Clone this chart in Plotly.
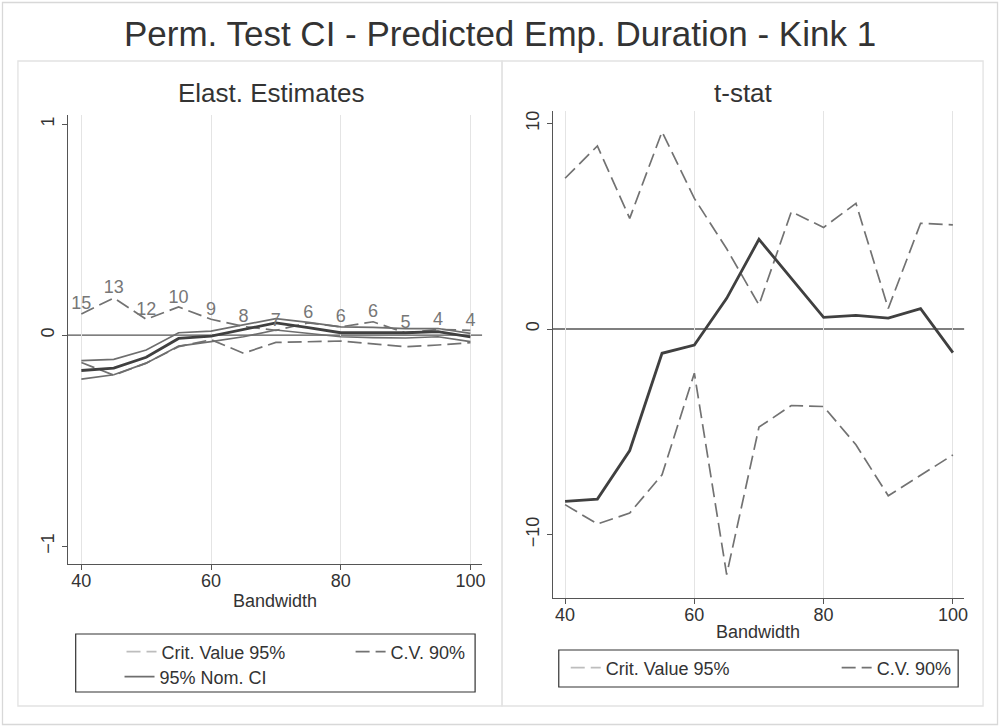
import plotly.graph_objects as go

# ---------------- data ----------------
bandwidth = [40, 45, 50, 55, 60, 65, 70, 75, 80, 85, 90, 95, 100]

elast_est = [-0.168, -0.157, -0.105, -0.016, -0.005, 0.027, 0.058, 0.035, 0.011, 0.011, 0.011, 0.016, -0.008]
elast_ci_hi = [-0.121, -0.115, -0.071, 0.011, 0.019, 0.050, 0.078, 0.060, 0.039, 0.036, 0.031, 0.031, 0.008]
elast_ci_lo = [-0.209, -0.188, -0.133, -0.052, -0.031, -0.008, 0.024, 0.008, -0.008, -0.012, -0.014, -0.008, -0.031]
elast_cv90_hi = [0.100, 0.176, 0.075, 0.133, 0.075, 0.041, 0.022, 0.058, 0.039, 0.063, 0.010, 0.027, 0.022]
elast_cv90_lo = [-0.130, -0.190, -0.133, -0.055, -0.022, -0.086, -0.035, -0.031, -0.028, -0.042, -0.055, -0.047, -0.036]
elast_labels = ["15", "13", "12", "10", "9", "8", "7", "6", "6", "6", "5", "4", "4"]

tstat = [-8.38, -8.27, -5.91, -1.18, -0.78, 1.49, 4.36, 2.46, 0.57, 0.66, 0.53, 0.99, -1.15]
tstat_cv90_hi = [7.33, 8.90, 5.38, 9.59, 6.35, 3.90, 1.17, 5.70, 4.94, 6.11, 1.00, 5.14, 5.06]
tstat_cv90_lo = [-8.54, -9.48, -8.95, -7.09, -2.15, -11.94, -4.77, -3.72, -3.77, -5.63, -8.11, -7.10, -6.12]

x_ticks = [40, 60, 80, 100]
elast_y_ticks = [-1, 0, 1]
tstat_y_ticks = [-10, 0, 10]

title_text = "Perm. Test CI - Predicted Emp. Duration - Kink 1"
left_title = "Elast. Estimates"
right_title = "t-stat"
x_title = "Bandwidth"
name_cv95 = "Crit. Value 95%"
name_cv90 = "C.V. 90%"
name_ci = "95% Nom. CI"

# ---------------- styling ----------------
W, H = 1004, 727
FONT = "Liberation Sans, Arial, Helvetica, sans-serif"
TXT = "#333333"
AX = "#555555"
GRID = "#e4e4e4"
C_EST = "#404040"
C_CI = "#6e6e6e"
C_CV90 = "#727272"
C_CV95 = "#bdbdbd"
DASH = "14px,6px"


def px(x):
    return x / W


def py(y):
    return 1 - y / H


fig = go.Figure()

# ---- left panel ----
fig.add_trace(go.Scatter(x=bandwidth, y=elast_cv90_hi, mode="lines", name=name_cv90,
                         line=dict(color=C_CV90, width=1.7, dash=DASH),
                         xaxis="x", yaxis="y", legend="legend2", showlegend=True))
fig.add_trace(go.Scatter(x=bandwidth, y=elast_cv90_lo, mode="lines", name=name_cv90,
                         line=dict(color=C_CV90, width=1.7, dash=DASH),
                         xaxis="x", yaxis="y", showlegend=False))
fig.add_trace(go.Scatter(x=bandwidth, y=elast_ci_hi, mode="lines", name=name_ci,
                         line=dict(color=C_CI, width=1.7),
                         xaxis="x", yaxis="y", legend="legend3", showlegend=True))
fig.add_trace(go.Scatter(x=bandwidth, y=elast_ci_lo, mode="lines", name=name_ci,
                         line=dict(color=C_CI, width=1.7),
                         xaxis="x", yaxis="y", showlegend=False))
fig.add_trace(go.Scatter(x=bandwidth, y=elast_est, mode="lines", name="Estimate",
                         line=dict(color=C_EST, width=2.8),
                         xaxis="x", yaxis="y", showlegend=False))
fig.add_trace(go.Scatter(x=bandwidth, y=elast_cv90_hi, mode="text", text=elast_labels,
                         textposition="top center",
                         textfont=dict(family=FONT, size=18, color="#777777"),
                         xaxis="x", yaxis="y", showlegend=False, hoverinfo="skip"))
fig.add_trace(go.Scatter(x=[None], y=[None], mode="lines", name=name_cv95,
                         line=dict(color=C_CV95, width=1.7, dash=DASH),
                         xaxis="x", yaxis="y", legend="legend", showlegend=True))

# ---- right panel ----
fig.add_trace(go.Scatter(x=bandwidth, y=tstat_cv90_hi, mode="lines", name=name_cv90,
                         line=dict(color=C_CV90, width=1.7, dash=DASH),
                         xaxis="x2", yaxis="y2", legend="legend5", showlegend=True))
fig.add_trace(go.Scatter(x=bandwidth, y=tstat_cv90_lo, mode="lines", name=name_cv90,
                         line=dict(color=C_CV90, width=1.7, dash=DASH),
                         xaxis="x2", yaxis="y2", showlegend=False))
fig.add_trace(go.Scatter(x=bandwidth, y=tstat, mode="lines", name="t-stat",
                         line=dict(color=C_EST, width=2.8),
                         xaxis="x2", yaxis="y2", showlegend=False))
fig.add_trace(go.Scatter(x=[None], y=[None], mode="lines", name=name_cv95,
                         line=dict(color=C_CV95, width=1.7, dash=DASH),
                         xaxis="x2", yaxis="y2", legend="legend4", showlegend=True))

axis_common = dict(showline=True, linecolor=AX, linewidth=1.3, ticks="outside",
                   ticklen=5, tickwidth=1.2, tickcolor=AX, zeroline=False,
                   tickfont=dict(family=FONT, size=18, color=TXT))

xl = dict(domain=[px(68), px(484)], range=[37.9, 101.8], anchor="y",
          tickvals=x_ticks, showgrid=True, gridcolor=GRID, gridwidth=1.3, **axis_common)
xr = dict(domain=[px(555), px(968)], range=[38.1, 101.74], anchor="y2",
          tickvals=x_ticks, showgrid=True, gridcolor=GRID, gridwidth=1.3, **axis_common)
fig.update_layout(
    xaxis=xl,
    yaxis=dict(domain=[py(564), py(115)], range=[-1.085, 1.043], anchor="x",
               tickvals=elast_y_ticks, showgrid=False, tickangle=-90, **axis_common),
    xaxis2=xr,
    yaxis2=dict(domain=[py(598), py(111)], range=[-13.08, 10.6], anchor="x2",
                tickvals=tstat_y_ticks, showgrid=False, tickangle=-90, **axis_common),
)
try:
    fig.update_layout(xaxis_ticklabelstandoff=-5, xaxis2_ticklabelstandoff=-5)
except Exception:
    pass

shapes = []
# zero reference lines
for xa, ya in (("x", "y"), ("x2", "y2")):
    shapes.append(dict(type="line", xref=f"{xa} domain", yref=ya, x0=0, x1=1, y0=0, y1=0,
                       line=dict(color=AX, width=1.3), layer="below"))

# panel boxes + outer frame
frame = dict(color="#e2e2e2", width=1.3)
shapes.append(dict(type="rect", xref="paper", yref="paper", x0=px(2.5), x1=px(1001.5),
                   y0=py(724.5), y1=py(2.5), line=dict(color="#d8d8d8", width=1.3)))
shapes.append(dict(type="rect", xref="paper", yref="paper", x0=px(18), x1=px(504),
                   y0=py(706), y1=py(61), line=frame))
shapes.append(dict(type="rect", xref="paper", yref="paper", x0=px(504), x1=px(987),
                   y0=py(706), y1=py(61), line=frame))
# legend boxes
shapes.append(dict(type="rect", xref="paper", yref="paper", x0=px(76), x1=px(477),
                   y0=py(692), y1=py(634), line=dict(color="#333333", width=1.2)))
shapes.append(dict(type="rect", xref="paper", yref="paper", x0=px(561), x1=px(962),
                   y0=py(687), y1=py(650), line=dict(color="#333333", width=1.2)))

leg_common = dict(orientation="v", xanchor="left", yanchor="middle", bgcolor="rgba(0,0,0,0)",
                  borderwidth=0, font=dict(family=FONT, size=18, color=TXT), itemclick=False)
fig.update_layout(
    legend=dict(x=px(122), y=py(652), **leg_common),
    legend2=dict(x=px(352), y=py(652), **leg_common),
    legend3=dict(x=px(120), y=py(677), **leg_common),
    legend4=dict(x=px(568), y=py(668), **leg_common),
    legend5=dict(x=px(840), y=py(668), **leg_common),
)

ann = []
ann.append(dict(text=title_text, x=px(502), y=py(33), xref="paper", yref="paper",
                showarrow=False, font=dict(family=FONT, size=35, color=TXT),
                xanchor="center", yanchor="middle"))
ann.append(dict(text=left_title, x=px(272), y=py(93), xref="paper", yref="paper",
                showarrow=False, font=dict(family=FONT, size=26, color=TXT),
                xanchor="center", yanchor="middle"))
ann.append(dict(text=right_title, x=px(746), y=py(93), xref="paper", yref="paper",
                showarrow=False, font=dict(family=FONT, size=26, color=TXT),
                xanchor="center", yanchor="middle"))
ann.append(dict(text=x_title, x=0.5, y=py(601), xref="x domain", yref="paper",
                showarrow=False, font=dict(family=FONT, size=18, color=TXT),
                xanchor="center", yanchor="middle"))
ann.append(dict(text=x_title, x=0.5, y=py(632), xref="x2 domain", yref="paper",
                showarrow=False, font=dict(family=FONT, size=18, color=TXT),
                xanchor="center", yanchor="middle"))

fig.update_layout(
    width=W, height=H, margin=dict(l=0, r=0, t=0, b=0, pad=0),
    paper_bgcolor="white", plot_bgcolor="white",
    annotations=ann, shapes=shapes, font=dict(family=FONT, color=TXT),
)

fig.write_html("out.html", config={"displayModeBar": False},
               post_script="document.body.style.margin='0px';")
